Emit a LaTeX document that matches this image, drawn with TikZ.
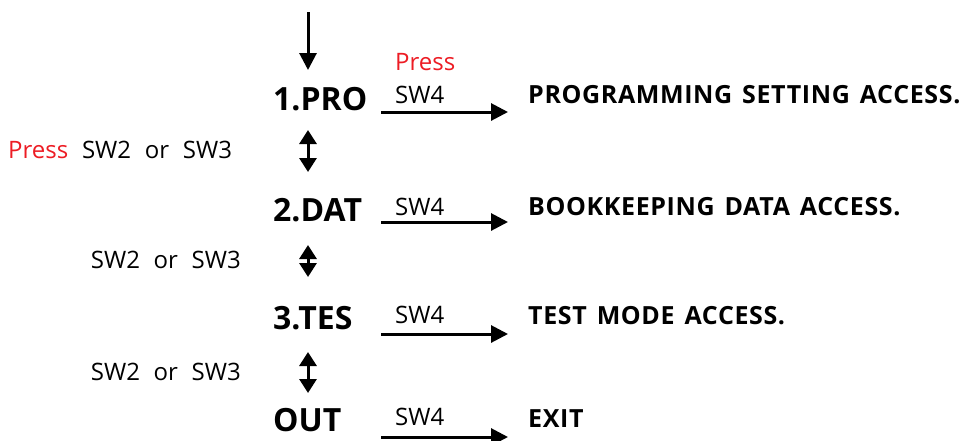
\documentclass[tikz,border=0pt]{standalone}
\usepackage{fontspec}
\setmainfont{Open Sans}[WordSpace=2.2]
\newfontfamily\accfont{Open Sans}[LetterSpace=2.5,WordSpace=1.4]
\usetikzlibrary{arrows.meta,calc}
\definecolor{pressred}{RGB}{237,28,36}
\begin{document}
\begin{tikzpicture}[x=1pt,y=-1pt,
 big/.style={font=\fontsize{32}{32}\selectfont\bfseries, inner sep=0, anchor=base west},
 acc/.style={font=\accfont\fontsize{25}{25}\selectfont\bfseries, inner sep=0, anchor=base west},
 lbl/.style={font=\fontsize{24}{24}\selectfont, inner sep=0, anchor=base west},
 lblr/.style={lbl, anchor=base east},
 arr/.style={line width=3pt, -{Triangle[length=17pt,width=17pt]}},
 darr/.style={line width=3pt, {Triangle[length=14pt,width=17pt]}-{Triangle[length=14pt,width=17pt]}},
]
\useasboundingbox (0,0) rectangle (971,440);
\fill[white] (0,0) rectangle (971,440);

\node[big] (pro) at (273,110) {1.PRO};
\node[big] (dat) at (273,221) {2.DAT};
\node[big] (tes) at (273,329) {3.TES};
\node[big] (out) at (273,431) {OUT};

\node[acc] (a1) at (528,103) {PROGRAMMING SETTING ACCESS.};
\node[acc] (a2) at (528,215) {BOOKKEEPING DATA ACCESS.};
\node[acc] (a3) at (528,324) {TEST MODE ACCESS.};
\node[acc] (a4) at (528,427) {EXIT};

\node[lbl, text=pressred] (press) at (395,70) {Press};
\node[lbl] (s1) at (395,103) {SW4};
\node[lbl] (s2) at (395,215) {SW4};
\node[lbl] (s3) at (395,323) {SW4};
\node[lbl] (s4) at (395,425) {SW4};

\node[lbl] (l1) at (8,158) {\textcolor{pressred}{Press} SW2 or SW3};
\node[lblr] (l2) at (241,268) {SW2 or SW3};
\node[lblr] (l3) at (241,380) {SW2 or SW3};

\coordinate (start) at (308,12);
\draw[arr] (start) -- ($(pro.base west)+(35,-40)$);

\draw[darr] ($(pro.base west)+(35,20)$) -- ($(dat.base west)+(35,-49)$);
\draw[darr] ($(dat.base west)+(35,24)$) -- ($(tes.base west)+(35,-52)$);
\draw[darr] ($(tes.base west)+(35,23)$) -- ($(out.base west)+(35,-38)$);

\draw[arr] ($(pro.base west)+(108,2)$) -- ($(a1.base west)+(-20,9)$);
\draw[arr] ($(dat.base west)+(108,1)$) -- ($(a2.base west)+(-20,7)$);
\draw[arr] ($(tes.base west)+(108,5)$) -- ($(a3.base west)+(-20,10)$);
\draw[arr] ($(out.base west)+(108,6)$) -- ($(a4.base west)+(-20,10)$);
\end{tikzpicture}
\end{document}
